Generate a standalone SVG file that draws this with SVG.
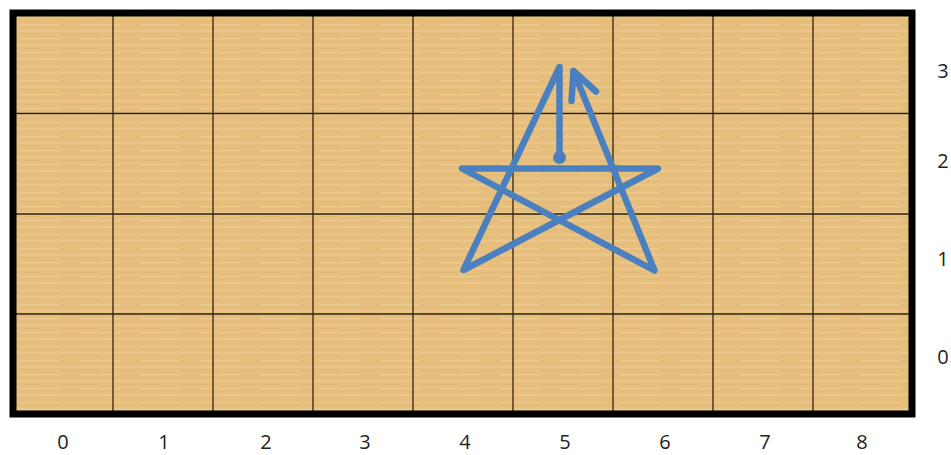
<svg xmlns="http://www.w3.org/2000/svg" width="951" height="455" viewBox="0 0 951 455">
<style>
.grid{stroke:#2e2412;stroke-width:1.3;fill:none}
.lbl{font-family:"Open Sans","Liberation Sans",sans-serif;font-size:20px;fill:#222;text-anchor:middle}
.star{stroke:#4a7fc0;stroke-width:6.5;fill:none;stroke-linecap:round;stroke-linejoin:round}
</style>
<defs>
<pattern id="wood" x="0" y="0" width="60" height="14" patternUnits="userSpaceOnUse">
<rect width="60" height="14" fill="#e7bf7d"/>
<rect y="2" width="60" height="1.5" fill="#eecb91" opacity="0.8"/>
<rect y="6" width="40" height="1" fill="#dfb574" opacity="0.7"/>
<rect x="20" y="10" width="40" height="1.5" fill="#efcd95" opacity="0.7"/>
<rect y="12.5" width="60" height="1" fill="#e2b877" opacity="0.6"/>
</pattern>
</defs>
<rect width="951" height="455" fill="#ffffff"/>
<g id="board">
<rect x="13" y="13" width="899" height="401" fill="url(#wood)"/>
<g class="grid">
<line x1="113" y1="13" x2="113" y2="414"/>
<line x1="213" y1="13" x2="213" y2="414"/>
<line x1="313" y1="13" x2="313" y2="414"/>
<line x1="413" y1="13" x2="413" y2="414"/>
<line x1="513" y1="13" x2="513" y2="414"/>
<line x1="613" y1="13" x2="613" y2="414"/>
<line x1="713" y1="13" x2="713" y2="414"/>
<line x1="813" y1="13" x2="813" y2="414"/>
<line x1="13" y1="113.5" x2="912" y2="113.5"/>
<line x1="13" y1="214" x2="912" y2="214"/>
<line x1="13" y1="314" x2="912" y2="314"/>
</g>
<rect x="13" y="13" width="899" height="401" fill="none" stroke="#000" stroke-width="7"/>
</g>
<g id="x-labels" class="lbl">
<text x="63" y="449">0</text>
<text x="164" y="449">1</text>
<text x="266" y="449">2</text>
<text x="365" y="449">3</text>
<text x="465" y="449">4</text>
<text x="565" y="449">5</text>
<text x="665" y="449">6</text>
<text x="765" y="449">7</text>
<text x="862" y="449">8</text>
</g>
<g id="y-labels" class="lbl">
<text x="943" y="78">3</text>
<text x="943" y="168">2</text>
<text x="943" y="266">1</text>
<text x="943" y="364">0</text>
</g>
<g id="star">
<circle cx="559.5" cy="157.5" r="6.5" fill="#4a7fc0"/>
<path class="star" d="M559.5,157.5 L559.5,67 L463.5,270 L658,168.5 L462,168.5 L654.5,270.5 L573.5,71"/>
<path class="star" d="M571.5,101 L573.5,71 L596,91.5"/>
</g>
</svg>
